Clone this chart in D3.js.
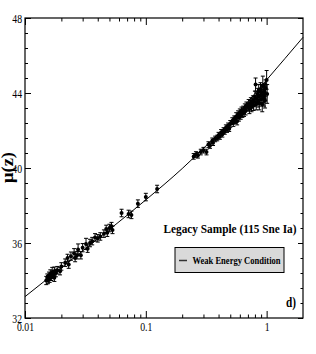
<!DOCTYPE html>
<html>
<head>
<meta charset="utf-8">
<script src="https://cdn.jsdelivr.net/npm/d3@7"></script>
<style>
    body { margin: 0; background: #fff; }
    svg text { font-family: "Liberation Serif", "Times New Roman", serif; fill: #000; }
</style>
</head>
<body>
<div id="chart"></div>
<script>
/* Tick labels */
var xTicks      = [0.01, 0.1, 1];
var xTickLabels = ["0.01", "0.1", "1"];
var yTicks      = [32, 36, 40, 44, 48];
var yTickLabels = ["32", "36", "40", "44", "48"];

/* Model curve (Weak Energy Condition) */
var curveZ  = [0.01, 0.02, 0.05, 0.1, 0.2, 0.3, 0.5, 1.0, 2.0];
var curveMu = [33.14, 34.68, 36.72, 38.3, 39.97, 41.05, 42.48, 44.7, 46.97];

/* Supernovae: redshift, distance modulus, error */
var snZ = [
    0.0150, 0.0153, 0.0155, 0.0158, 0.0160, 0.0162, 0.0165, 0.0168, 0.0170, 0.0175,
    0.0180, 0.0185, 0.0195, 0.0200, 0.0215, 0.0225, 0.0230, 0.0240, 0.0255, 0.0260,
    0.0270, 0.0275, 0.0290, 0.0300, 0.0320, 0.0330, 0.0345, 0.0360, 0.0380, 0.0400,
    0.0420, 0.0450, 0.0470, 0.0480, 0.0500, 0.0530, 0.0520, 0.0630, 0.0720, 0.0760,
    0.0860, 0.1000, 0.1240, 0.0175,
    0.249, 0.260, 0.270, 0.285, 0.300, 0.318, 0.330, 0.340, 0.355, 0.360,
    0.375, 0.390, 0.400, 0.410, 0.420, 0.430, 0.440, 0.450, 0.460, 0.470,
    0.480, 0.490, 0.500, 0.520, 0.530, 0.540, 0.550, 0.560, 0.570, 0.580,
    0.590, 0.600, 0.610, 0.620, 0.630, 0.640, 0.650, 0.660, 0.670, 0.680,
    0.700, 0.710, 0.720, 0.730, 0.740, 0.750, 0.760, 0.770, 0.780, 0.790,
    0.800, 0.810, 0.820, 0.830, 0.840, 0.850, 0.860, 0.870, 0.880, 0.890,
    0.900, 0.910, 0.920, 0.930, 0.940, 0.950, 0.960, 0.970, 0.980, 1.000,
    1.010
];
var snMu = [
    34.00, 34.15, 34.05, 34.25, 34.10, 34.35, 34.20, 34.45, 34.30, 34.50,
    34.40, 34.55, 34.50, 34.75, 34.95, 35.20, 34.85, 35.30, 35.45, 35.20,
    35.35, 35.65, 35.35, 35.75, 35.95, 35.70, 36.00, 36.10, 36.30, 36.25,
    36.35, 36.50, 36.75, 36.55, 36.80, 36.70, 36.90, 37.60, 37.55, 37.50,
    38.10, 38.45, 38.88, 34.15,
    40.62, 40.72, 40.68, 40.85, 40.95, 40.85, 41.25, 41.20, 41.45, 41.35,
    41.55, 41.60, 41.75, 41.68, 41.90, 41.80, 42.00, 41.95, 42.15, 42.05,
    42.25, 42.10, 42.35, 42.50, 42.40, 42.60, 42.55, 42.75, 42.50, 42.85,
    42.70, 42.95, 42.80, 43.05, 42.90, 43.10, 42.95, 43.20, 43.05, 43.30,
    43.25, 43.40, 43.15, 43.35, 43.50, 43.25, 43.45, 43.60, 43.35, 43.55,
    43.80, 44.45, 43.40, 43.70, 43.95, 43.55, 44.10, 43.45, 43.85, 44.20,
    43.65, 44.05, 43.40, 44.40, 43.90, 43.75, 44.10, 43.60, 44.25, 44.70,
    43.95
];
var snErr = [
    0.22, 0.20, 0.22, 0.20, 0.20, 0.22, 0.20, 0.25, 0.20, 0.22,
    0.20, 0.20, 0.20, 0.20, 0.20, 0.20, 0.20, 0.22, 0.25, 0.20,
    0.20, 0.30, 0.20, 0.22, 0.30, 0.20, 0.20, 0.20, 0.20, 0.20,
    0.20, 0.20, 0.20, 0.20, 0.20, 0.20, 0.20, 0.20, 0.20, 0.20,
    0.20, 0.20, 0.20, 0.20,
    0.15, 0.15, 0.15, 0.15, 0.15, 0.15, 0.15, 0.15, 0.15, 0.15,
    0.15, 0.15, 0.15, 0.15, 0.15, 0.15, 0.15, 0.15, 0.15, 0.15,
    0.15, 0.15, 0.18, 0.18, 0.18, 0.18, 0.18, 0.20, 0.20, 0.20,
    0.20, 0.20, 0.20, 0.20, 0.20, 0.20, 0.20, 0.22, 0.22, 0.22,
    0.22, 0.25, 0.25, 0.25, 0.25, 0.25, 0.25, 0.25, 0.28, 0.28,
    0.30, 0.35, 0.30, 0.30, 0.30, 0.30, 0.35, 0.35, 0.35, 0.35,
    0.35, 0.40, 0.40, 0.50, 0.40, 0.45, 0.40, 0.40, 0.45, 0.50,
    0.50
];

var WIDTH   = 316,
    HEIGHT  = 354,
    margins = {top: 18, right: 13, bottom: 36, left: 25};

/**
 * Squeezes texts horizontally, the original uses a narrow Times
 */
function condense(selection, factor){
    selection.each(function(){
        var w = this.getComputedTextLength();
        d3.select(this)
            .attr("textLength", w * factor)
            .attr("lengthAdjust", "spacingAndGlyphs");
    });
}

function drawChart(element){
    var w = WIDTH - margins.left - margins.right,
        h = HEIGHT - margins.top - margins.bottom;

    var svg = d3.select(element)
        .append("svg")
            .attr("width", WIDTH)
            .attr("height", HEIGHT);

    var main = svg.append("g")
        .attr("transform", "translate(" + margins.left + "," + margins.top + ")");

    /* Scales */
    var x = d3.scaleLog().domain([0.01, 2]).range([0, w]);
    var y = d3.scaleLinear().domain([32, 48]).range([h, 0]);

    var xMinor = [];
    [0.01, 0.1, 1].forEach(function(d){
        for (var k = 2; k <= 9; k++) if (d * k < 2) xMinor.push(d * k);
    });
    var yMinor = [];
    for (var i = 0; i <= 20; i++) if (i % 5 !== 0) yMinor.push(32 + i * 0.8);

    /* Axes - ticks point into the plot */
    function axisGroup(axis, tx, ty){
        var g = main.append("g")
            .attr("transform", "translate(" + tx + "," + ty + ")")
            .call(axis);
        g.select(".domain").remove();
        g.selectAll("line").attr("stroke", "#000");
        return g;
    }

    var xb = axisGroup(d3.axisBottom(x).tickValues(xTicks)
        .tickFormat(function(d, i){ return xTickLabels[i]; })
        .tickSize(-7).tickPadding(4), 0, h);
    axisGroup(d3.axisBottom(x).tickValues(xMinor).tickFormat("").tickSize(-3.5), 0, h);
    axisGroup(d3.axisTop(x).tickValues(xTicks).tickFormat("").tickSize(-7), 0, 0);
    axisGroup(d3.axisTop(x).tickValues(xMinor).tickFormat("").tickSize(-3.5), 0, 0);

    var yl = axisGroup(d3.axisLeft(y).tickValues(yTicks)
        .tickFormat(function(d, i){ return yTickLabels[i]; })
        .tickSize(-6).tickPadding(3), 0, 0);
    axisGroup(d3.axisLeft(y).tickValues(yMinor).tickFormat("").tickSize(-3), 0, 0);
    axisGroup(d3.axisRight(y).tickValues(yTicks).tickFormat("").tickSize(-5), w, 0);
    axisGroup(d3.axisRight(y).tickValues(yMinor).tickFormat("").tickSize(-2.5), w, 0);

    [xb, yl].forEach(function(g){
        g.attr("font-family", null).attr("font-size", 12.5);
        g.selectAll("text").attr("fill", "#000");
        condense(g.selectAll("text"), 0.78);
    });

    /* Frame */
    main.append("rect")
        .attr("width", w)
        .attr("height", h)
        .attr("fill", "none")
        .attr("stroke", "#000")
        .attr("stroke-width", 1.2);

    /* Model line */
    var line = d3.line()
        .curve(d3.curveMonotoneX)
        .x(function(d){ return x(d); })
        .y(function(d, i){ return y(curveMu[i]); });

    main.append("path")
        .attr("d", line(curveZ))
        .attr("fill", "none")
        .attr("stroke", "#000")
        .attr("stroke-width", 1);

    /* Error bars */
    var data = snZ.map(function(z, i){ return {z: z, mu: snMu[i], e: snErr[i]}; });
    var bars = main.selectAll(".err")
        .data(data)
        .enter()
        .append("path")
            .attr("class", "err")
            .attr("fill", "none")
            .attr("stroke", "#000")
            .attr("stroke-width", 1)
            .attr("d", function(d){
                var cx = x(d.z), y0 = y(d.mu - d.e), y1 = y(d.mu + d.e);
                return "M" + cx + "," + y0 + "V" + y1 +
                       "M" + (cx - 2) + "," + y0 + "H" + (cx + 2) +
                       "M" + (cx - 2) + "," + y1 + "H" + (cx + 2);
            });

    /* Points */
    main.selectAll(".pt")
        .data(data)
        .enter()
        .append("circle")
            .attr("class", "pt")
            .attr("r", 2)
            .attr("cx", function(d){ return x(d.z); })
            .attr("cy", function(d){ return y(d.mu); })
            .attr("fill", "#000");

    /* Y label */
    var ylab = svg.append("text")
        .attr("transform", "translate(13,167.5) rotate(-90)")
        .attr("text-anchor", "middle")
        .attr("font-size", 16)
        .attr("font-weight", "bold")
        .text("\u03bc(z)");
    ylab.attr("textLength", 31).attr("lengthAdjust", "spacingAndGlyphs");

    /* Sample title */
    svg.append("text")
        .attr("x", 163.5)
        .attr("y", 233)
        .attr("font-size", 13.5)
        .attr("font-weight", "bold")
        .attr("textLength", 133)
        .attr("lengthAdjust", "spacingAndGlyphs")
        .text("Legacy Sample (115 Sne Ia)");

    /* Legend */
    var legend = svg.append("g").attr("transform", "translate(175,247.5)");
    legend.append("rect")
        .attr("width", 109)
        .attr("height", 25)
        .attr("fill", "#d9d9d9")
        .attr("stroke", "#000")
        .attr("stroke-width", 1);
    legend.append("line")
        .attr("x1", 4).attr("x2", 12)
        .attr("y1", 13).attr("y2", 13)
        .attr("stroke", "#333")
        .attr("stroke-width", 1.5);
    legend.append("text")
        .attr("x", 17.5)
        .attr("y", 16)
        .attr("font-size", 11)
        .attr("font-weight", "bold")
        .attr("textLength", 88)
        .attr("lengthAdjust", "spacingAndGlyphs")
        .text("Weak Energy Condition");

    /* Panel letter */
    svg.append("text")
        .attr("x", 286)
        .attr("y", 307)
        .attr("font-size", 14.5)
        .attr("font-weight", "bold")
        .attr("textLength", 10)
        .attr("lengthAdjust", "spacingAndGlyphs")
        .text("d)");
}

drawChart(document.getElementById("chart"));
</script>
</body>
</html>
